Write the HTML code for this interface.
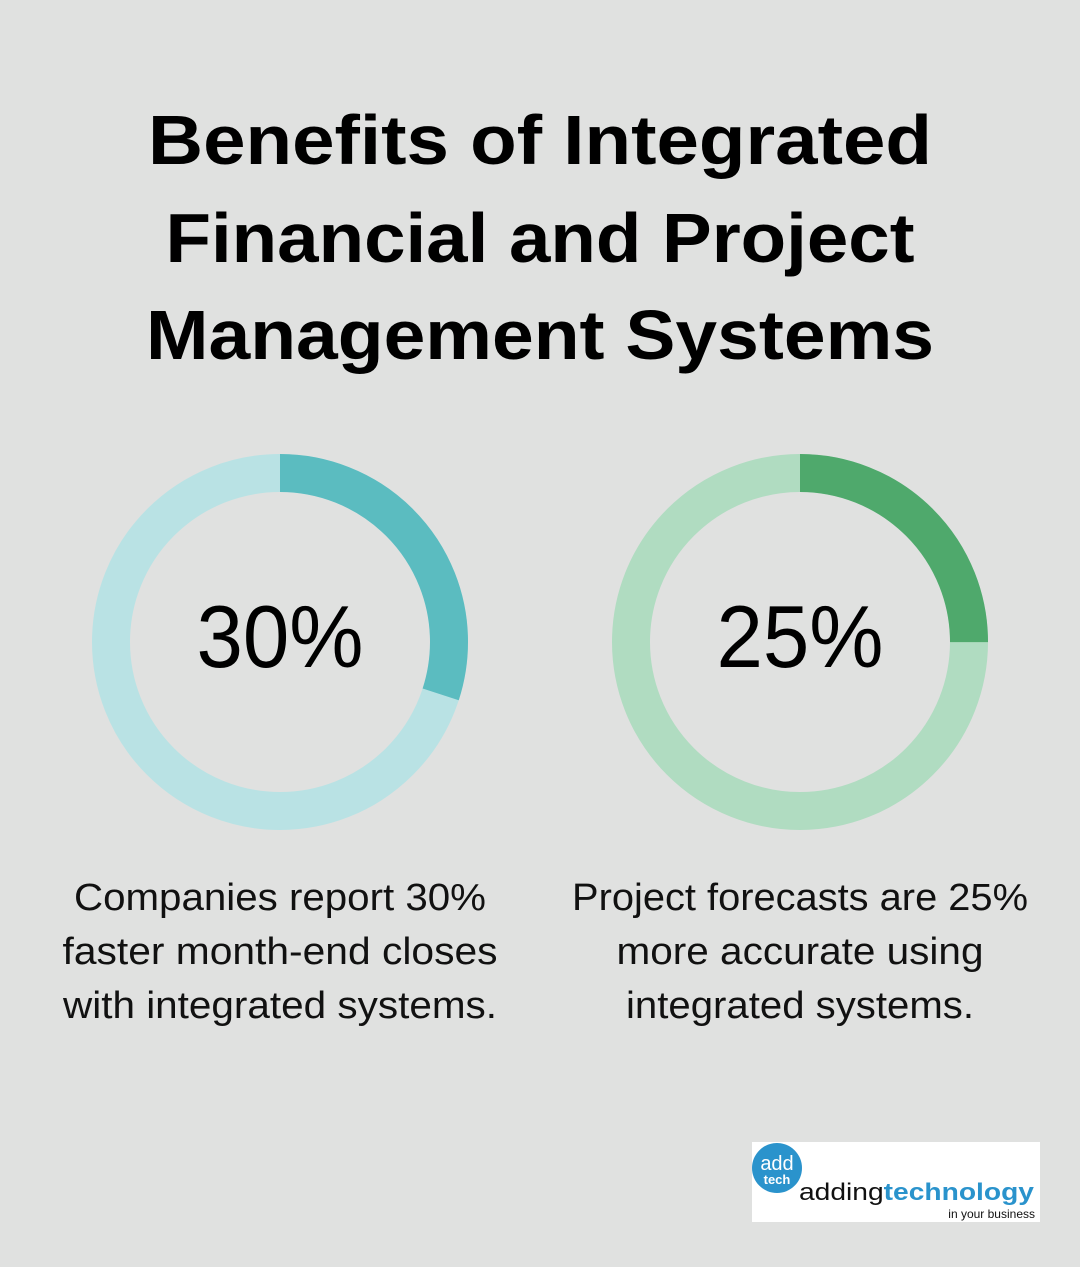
<!DOCTYPE html>
<html><head><style>html,body{margin:0;padding:0;background:#e0e1e0;}</style></head>
<body>
<svg width="1080" height="1262" viewBox="0 0 1080 1262" xmlns="http://www.w3.org/2000/svg">
<rect width="1080" height="1262" fill="#e0e1e0"/>
<g font-family="Liberation Sans, sans-serif" font-weight="bold" font-size="70" fill="#000" text-anchor="middle">
<text x="540" y="164" textLength="784" lengthAdjust="spacingAndGlyphs">Benefits of Integrated</text>
<text x="540" y="262" textLength="749" lengthAdjust="spacingAndGlyphs">Financial and Project</text>
<text x="540" y="359" textLength="788" lengthAdjust="spacingAndGlyphs">Management Systems</text>
</g>
<circle cx="280" cy="642" r="169" fill="none" stroke="#b9e2e4" stroke-width="38"/>
<circle cx="280" cy="642" r="169" fill="none" stroke="#5bbcc0" stroke-width="38" stroke-dasharray="318.6 2000" transform="rotate(-90 280 642)"/>
<circle cx="800" cy="642" r="169" fill="none" stroke="#b0dcc1" stroke-width="38"/>
<circle cx="800" cy="642" r="169" fill="none" stroke="#4fa96c" stroke-width="38" stroke-dasharray="265.5 2000" transform="rotate(-90 800 642)"/>
<g font-family="Liberation Sans, sans-serif" font-size="88" fill="#000" text-anchor="middle">
<text x="280" y="667" textLength="167" lengthAdjust="spacingAndGlyphs">30%</text>
<text x="800" y="667" textLength="167" lengthAdjust="spacingAndGlyphs">25%</text>
</g>
<g font-family="Liberation Sans, sans-serif" font-size="38" fill="#111" text-anchor="middle">
<text x="280" y="910" textLength="412" lengthAdjust="spacingAndGlyphs">Companies report 30%</text>
<text x="280" y="964" textLength="435" lengthAdjust="spacingAndGlyphs">faster month-end closes</text>
<text x="280" y="1018" textLength="434" lengthAdjust="spacingAndGlyphs">with integrated systems.</text>
<text x="800" y="910" textLength="456" lengthAdjust="spacingAndGlyphs">Project forecasts are 25%</text>
<text x="800" y="964" textLength="367" lengthAdjust="spacingAndGlyphs">more accurate using</text>
<text x="800" y="1018" textLength="348" lengthAdjust="spacingAndGlyphs">integrated systems.</text>
</g>
<rect x="752" y="1142" width="288" height="80" fill="#fff"/>
<circle cx="777" cy="1168" r="25" fill="#2a93cc"/>
<text x="777" y="1170" font-family="Liberation Sans, sans-serif" font-size="20" fill="#fff" text-anchor="middle">add</text>
<text x="777" y="1184" font-family="Liberation Sans, sans-serif" font-size="13" font-weight="bold" fill="#fff" text-anchor="middle">tech</text>
<text x="799" y="1200" font-family="Liberation Sans, sans-serif" font-size="24" fill="#111" textLength="235" lengthAdjust="spacingAndGlyphs">adding<tspan fill="#2a93cc" font-weight="bold">technology</tspan></text>
<text x="1035" y="1218" font-family="Liberation Sans, sans-serif" font-size="12" fill="#111" text-anchor="end">in your business</text>
</svg>
</body></html>
